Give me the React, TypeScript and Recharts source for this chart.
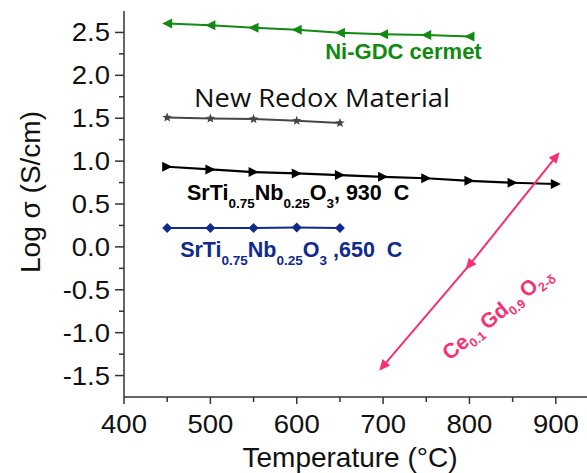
import React from "react";
import { LineChart, Line, XAxis, YAxis, ReferenceDot } from "recharts";

// Log conductivity vs temperature for the anode candidates
const niGdcTemp = [450, 500, 550, 600, 650, 700, 750, 800];
const niGdcLog = [2.605, 2.585, 2.555, 2.53, 2.497, 2.48, 2.47, 2.453];

const redoxTemp = [450, 500, 550, 600, 650];
const redoxLog = [1.508, 1.497, 1.49, 1.47, 1.445];

const sto930Temp = [450, 500, 550, 600, 650, 700, 750, 800, 850, 900];
const sto930Log = [0.934, 0.903, 0.872, 0.857, 0.837, 0.817, 0.8, 0.77, 0.748, 0.733];

const sto650Temp = [450, 500, 550, 600, 650];
const sto650Log = [0.22, 0.22, 0.22, 0.225, 0.22];

const cgoTemp = [700, 800, 900];
const cgoLog = [-1.39, -0.21, 1.05];

const xTicks = [400, 450, 500, 550, 600, 650, 700, 750, 800, 850, 900];
const xLabels = [400, 500, 600, 700, 800, 900];
const yTicks = [-1.5, -1.25, -1, -0.75, -0.5, -0.25, 0, 0.25, 0.5, 0.75, 1, 1.25, 1.5, 1.75, 2, 2.25, 2.5];
const yLabels = [-1.5, -1, -0.5, 0, 0.5, 1, 1.5, 2, 2.5];

const toPoints = (xs: number[], ys: number[]) => xs.map((t, i) => ({ t, v: ys[i] }));

const W = 620;
const H = 473;
const PLOT_LEFT = 124;
const PLOT_TOP = 11;
const PLOT_BOTTOM = 397;
const AXIS = "#333";
const FONT = "'Liberation Sans', Arial, sans-serif";

const GREEN = "#108a10";
const GRAY = "#474747";
const BLACK = "#000";
const NAVY = "#102a8e";
const PINK = "#f82f73";

const YTick = (props: any) => {
  const { y, payload } = props;
  const v = payload.value;
  const major = yLabels.some((l) => Math.abs(l - v) < 1e-6);
  return (
    <g>
      <line x1={PLOT_LEFT - (major ? 9 : 5)} x2={PLOT_LEFT} y1={y} y2={y} stroke={AXIS} strokeWidth={1.5} />
      {major && (
        <text
          transform={`translate(${PLOT_LEFT - 14},${y}) scale(1.1,1)`}
          textAnchor="end"
          dy="0.36em"
          fontSize={25}
          fontFamily={FONT}
          fill="#111"
        >
          {v.toFixed(1)}
        </text>
      )}
    </g>
  );
};

const XTick = (props: any) => {
  const { x, payload } = props;
  const v = payload.value;
  const major = xLabels.includes(v);
  return (
    <g>
      <line x1={x} x2={x} y1={PLOT_BOTTOM} y2={PLOT_BOTTOM + (major ? 7 : 5)} stroke={AXIS} strokeWidth={1.5} />
      {major && (
        <text
          transform={`translate(${x},${PLOT_BOTTOM + 36}) scale(1.1,1)`}
          textAnchor="middle"
          fontSize={25}
          fontFamily={FONT}
          fill="#111"
        >
          {v}
        </text>
      )}
    </g>
  );
};

const TopTick = (props: any) => (
  <line x1={props.x} x2={props.x} y1={PLOT_TOP} y2={PLOT_TOP + 3} stroke={AXIS} strokeWidth={1} />
);

// marker shapes
const leftTri = (color: string) => (p: any) => (
  <path
    key={p.index}
    d={`M${p.cx - 5},${p.cy} L${p.cx + 5},${p.cy - 5} L${p.cx + 5},${p.cy + 5} Z`}
    fill={color}
  />
);
const rightTri = (color: string) => (p: any) => (
  <path
    key={p.index}
    d={`M${p.cx + 5},${p.cy} L${p.cx - 5},${p.cy - 5} L${p.cx - 5},${p.cy + 5} Z`}
    fill={color}
  />
);
const diamond = (color: string) => (p: any) => (
  <path
    key={p.index}
    d={`M${p.cx},${p.cy - 5} L${p.cx + 5},${p.cy} L${p.cx},${p.cy + 5} L${p.cx - 5},${p.cy} Z`}
    fill={color}
  />
);
const star = (color: string) => (p: any) => {
  const pts: string[] = [];
  for (let i = 0; i < 10; i++) {
    const r = i % 2 === 0 ? 5 : 2.2;
    const a = -Math.PI / 2 + (i * Math.PI) / 5;
    pts.push(`${p.cx + r * Math.cos(a)},${p.cy + r * Math.sin(a)}`);
  }
  return <polygon key={p.index} points={pts.join(" ")} fill={color} />;
};
// arrow-like triangles along the ceria line: last one points up, the rest point down
const arrowTri = (color: string, count: number) => (p: any) => {
  const angle = p.index === count - 1 ? -50 : 130;
  return (
    <path
      key={p.index}
      d="M6,0 L-5,-5 L-5,5 Z"
      transform={`translate(${p.cx},${p.cy}) rotate(${angle})`}
      fill={color}
    />
  );
};

// chemical formula: [text, isSubscript] pieces, subscripts dropped by `drop` px
const chem = (parts: [string, boolean][], subSize: number, drop: number) => {
  let low = false;
  return parts.map(([s, isSub], i) => {
    const dy = isSub && !low ? drop : !isSub && low ? -drop : 0;
    low = isSub;
    return (
      <tspan key={i} dy={dy || undefined} fontSize={isSub ? subSize : undefined}>
        {s}
      </tspan>
    );
  });
};

const Formula = ({ cx, cy, fill, tail }: any) => (
  <text x={cx} y={cy} fill={fill} fontFamily={FONT} fontWeight="bold" fontSize={21.5} style={{ whiteSpace: "pre" }}>
    {chem(
      [
        ["SrTi", false],
        ["0.75", true],
        ["Nb", false],
        ["0.25", true],
        ["O", false],
        ["3", true],
        [tail, false],
      ],
      13.5,
      8
    )}
  </text>
);

const THIN = "\u2009";

export default function App() {
  return (
    <div
      style={{ position: "fixed", left: 0, top: 0, width: 587, height: 473, overflow: "hidden", background: "#fff" }}
    >
      <LineChart width={W} height={H} margin={{ top: PLOT_TOP, right: 21, bottom: 0, left: 0 }}>
        <XAxis
          xAxisId={0}
          type="number"
          dataKey="t"
          domain={[400, 950]}
          allowDataOverflow
          ticks={xTicks}
          interval={0}
          height={H - PLOT_BOTTOM}
          tickLine={false}
          tick={<XTick />}
          stroke={AXIS}
          strokeWidth={1.5}
          label={{
            content: () => (
              <text x={350} y={467} textAnchor="middle" fontSize={28} fontFamily={FONT} fill="#111">
                Temperature (°C)
              </text>
            ),
          }}
        />
        <XAxis
          xAxisId="top"
          orientation="top"
          type="number"
          dataKey="t"
          domain={[400, 950]}
          allowDataOverflow
          ticks={xTicks}
          interval={0}
          height={0}
          tickLine={false}
          tick={<TopTick />}
          stroke={AXIS}
          strokeWidth={1.5}
        />
        <YAxis
          type="number"
          domain={[-1.75, 2.75]}
          allowDataOverflow
          ticks={yTicks}
          interval={0}
          width={PLOT_LEFT}
          tickLine={false}
          tick={<YTick />}
          stroke={AXIS}
          strokeWidth={1.5}
          label={{
            content: () => (
              <text
                transform="translate(40,192) rotate(-90)"
                textAnchor="middle"
                fontSize={28}
                fontFamily={FONT}
                fill="#111"
              >
                Log σ (S/cm)
              </text>
            ),
          }}
        />

        <Line
          data={toPoints(niGdcTemp, niGdcLog)}
          dataKey="v"
          stroke={GREEN}
          strokeWidth={2}
          dot={leftTri(GREEN)}
          isAnimationActive={false}
        />
        <Line
          data={toPoints(redoxTemp, redoxLog)}
          dataKey="v"
          stroke={GRAY}
          strokeWidth={2}
          dot={star(GRAY)}
          isAnimationActive={false}
        />
        <Line
          data={toPoints(sto930Temp, sto930Log)}
          dataKey="v"
          stroke={BLACK}
          strokeWidth={2.2}
          dot={rightTri(BLACK)}
          isAnimationActive={false}
        />
        <Line
          data={toPoints(sto650Temp, sto650Log)}
          dataKey="v"
          stroke={NAVY}
          strokeWidth={2}
          dot={diamond(NAVY)}
          isAnimationActive={false}
        />
        <Line
          data={toPoints(cgoTemp, cgoLog)}
          dataKey="v"
          stroke={PINK}
          strokeWidth={2}
          dot={arrowTri(PINK, cgoTemp.length)}
          isAnimationActive={false}
        />

        <ReferenceDot
          x={633}
          y={2.19}
          ifOverflow="visible"
          shape={(p: any) => (
            <text x={p.cx} y={p.cy} fill={GREEN} fontFamily={FONT} fontWeight="bold" fontSize={22}>
              Ni-GDC cermet
            </text>
          )}
        />
        <ReferenceDot
          x={481}
          y={1.63}
          ifOverflow="visible"
          shape={(p: any) => (
            <text
              x={p.cx}
              y={p.cy}
              fill="#111"
              fontFamily="'Open Sans', 'Noto Sans', sans-serif"
              fontSize={25}
              textLength={256}
              lengthAdjust="spacingAndGlyphs"
            >
              New Redox Material
            </text>
          )}
        />
        <ReferenceDot
          x={473}
          y={0.547}
          ifOverflow="visible"
          shape={(p: any) => <Formula cx={p.cx} cy={p.cy} fill={BLACK} tail=", 930  C" />}
        />
        <ReferenceDot
          x={465}
          y={-0.116}
          ifOverflow="visible"
          shape={(p: any) => <Formula cx={p.cx} cy={p.cy} fill={NAVY} tail=" ,650  C" />}
        />
        <ReferenceDot
          x={777}
          y={-1.33}
          ifOverflow="visible"
          shape={(p: any) => (
            <text
              transform={`translate(${p.cx},${p.cy}) rotate(-39)`}
              fill={PINK}
              fontFamily={FONT}
              fontWeight="bold"
              fontSize={21}
              style={{ whiteSpace: "pre" }}
            >
              {chem(
                [
                  ["Ce", false],
                  ["0.1", true],
                  [THIN + "Gd", false],
                  ["0.9", true],
                  [THIN + "O", false],
                  ["2-δ", true],
                ],
                12.5,
                5
              )}
            </text>
          )}
        />
      </LineChart>
    </div>
  );
}
